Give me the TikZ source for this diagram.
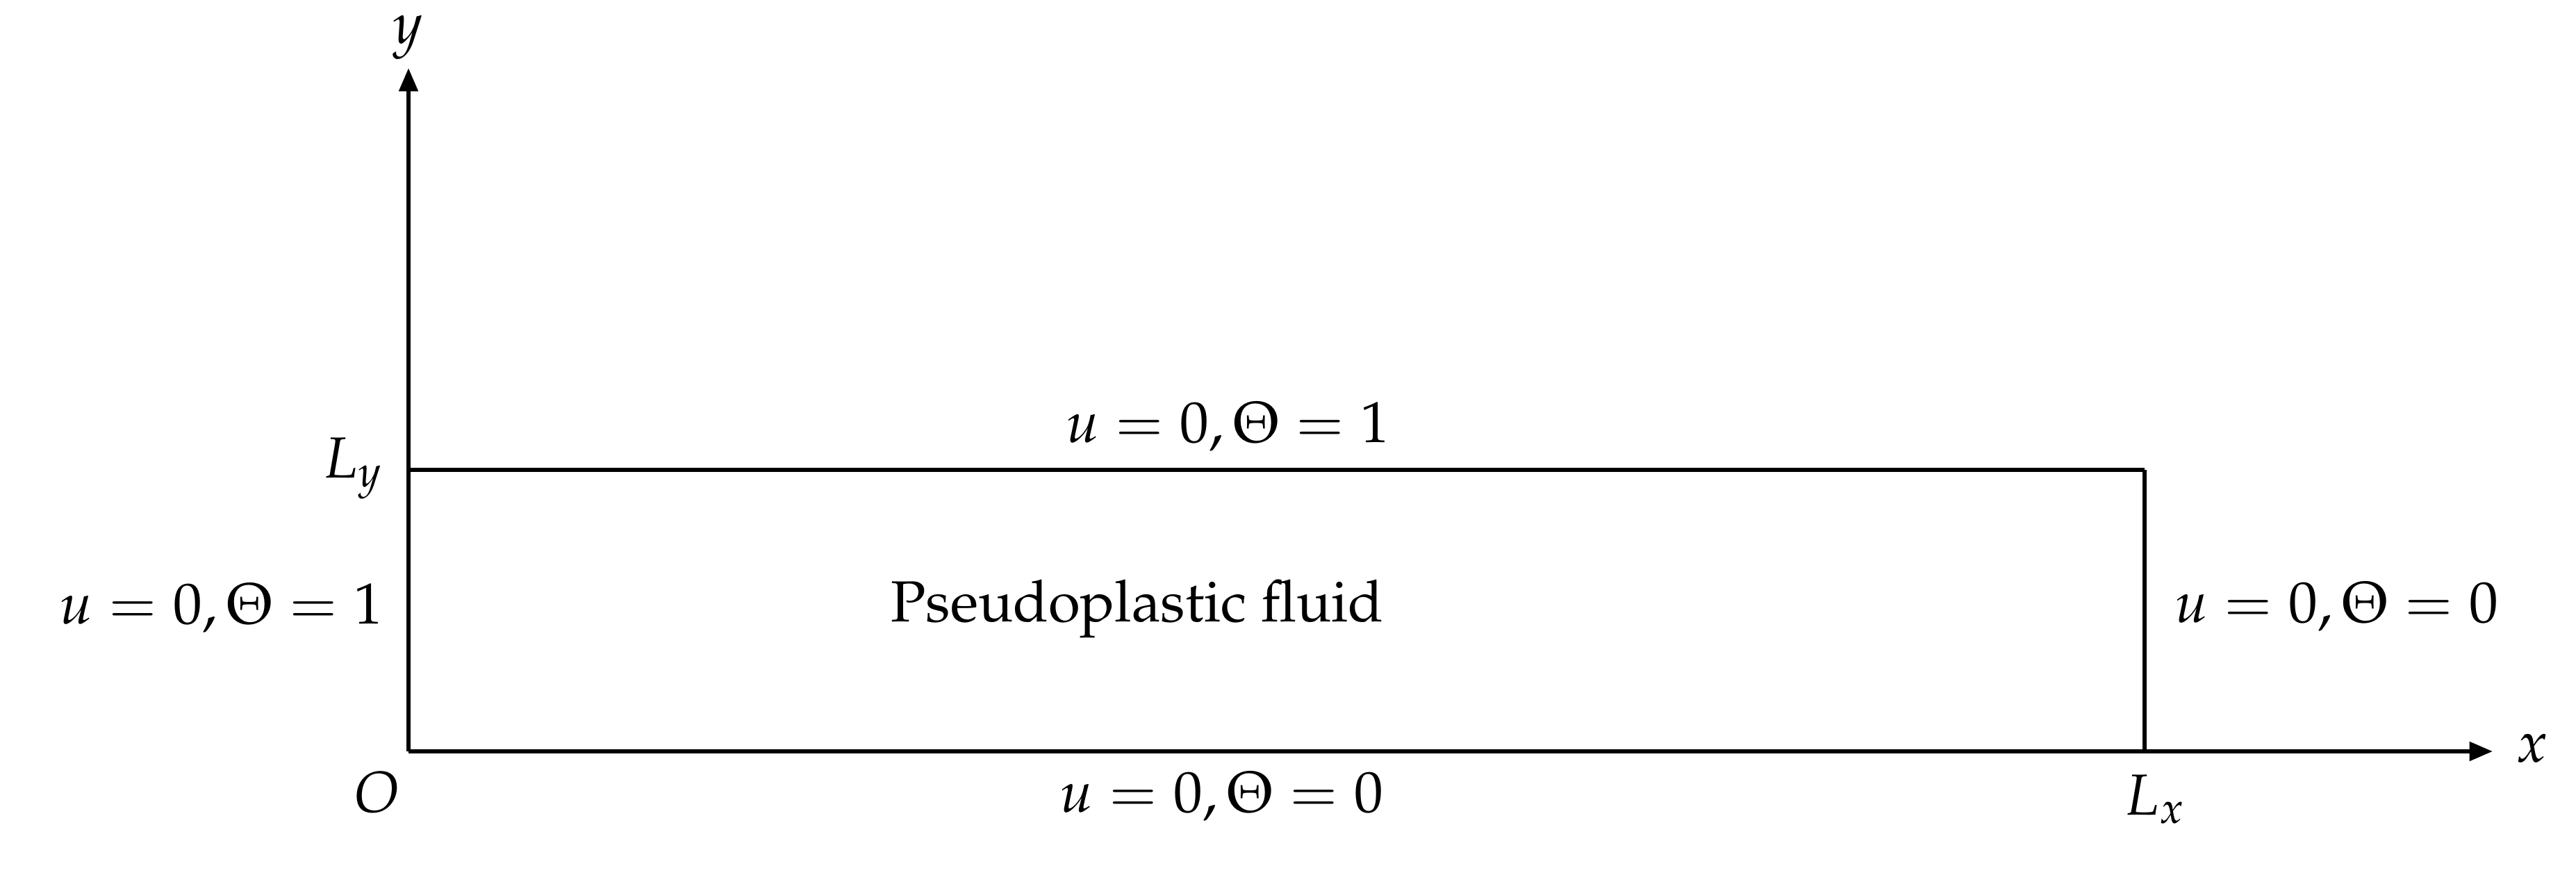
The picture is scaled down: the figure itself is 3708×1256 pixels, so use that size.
\documentclass[tikz,border=0pt]{standalone}
\usepackage[T1]{fontenc}
\usepackage{mathpazo}
\usetikzlibrary{arrows.meta}
\tikzset{
  axisline/.style={line width=0.72pt,-{Triangle[length=4pt,width=3.2pt]}},
  wall/.style={line width=0.72pt},
  lbl/.style={inner sep=0pt,outer sep=0pt}
}
\begin{document}
\begin{tikzpicture}[x=0.12pt,y=-0.12pt]
\useasboundingbox (0,0) rectangle (3708,1256);
% key points
\coordinate (orig) at (588,1081);
\coordinate (ytip) at (588,98);
\coordinate (xtip) at (3588,1081);
\coordinate (ly) at (588,676);
\coordinate (tr) at (3087,676);
\coordinate (lx) at (3087,1081);
% axes
\draw[axisline] (orig) -- (ytip);
\draw[axisline] (orig) -- (xtip);
% domain walls
\draw[wall] (ly) -- (tr);
\draw[wall] (tr) -- (lx);
% labels
\node[lbl,anchor=south] (ylab) at (587,86) {$y$};
\node[lbl,anchor=west] (xlab) at (3622,1077) {$x$};
\node[lbl,anchor=base east] (lylab) at (553,688) {$L_y$};
\node[lbl,anchor=base east] (olab) at (575,1168) {$O$};
\node[lbl,anchor=base] (lxlab) at (3103,1172) {$L_x$};
\node[lbl,anchor=base] (toplab) at (1767,636) {$u=0,\Theta=1$};
\node[lbl,anchor=base] (botlab) at (1758,1168) {$u=0,\Theta=0$};
\node[lbl,anchor=base east] (leftlab) at (551,898) {$u=0,\Theta=1$};
\node[lbl,anchor=base west] (rightlab) at (3130,896) {$u=0,\Theta=0$};
\node[lbl,anchor=base] (fluid) at (1637,894) {Pseudoplastic fluid};
\end{tikzpicture}
\end{document}
